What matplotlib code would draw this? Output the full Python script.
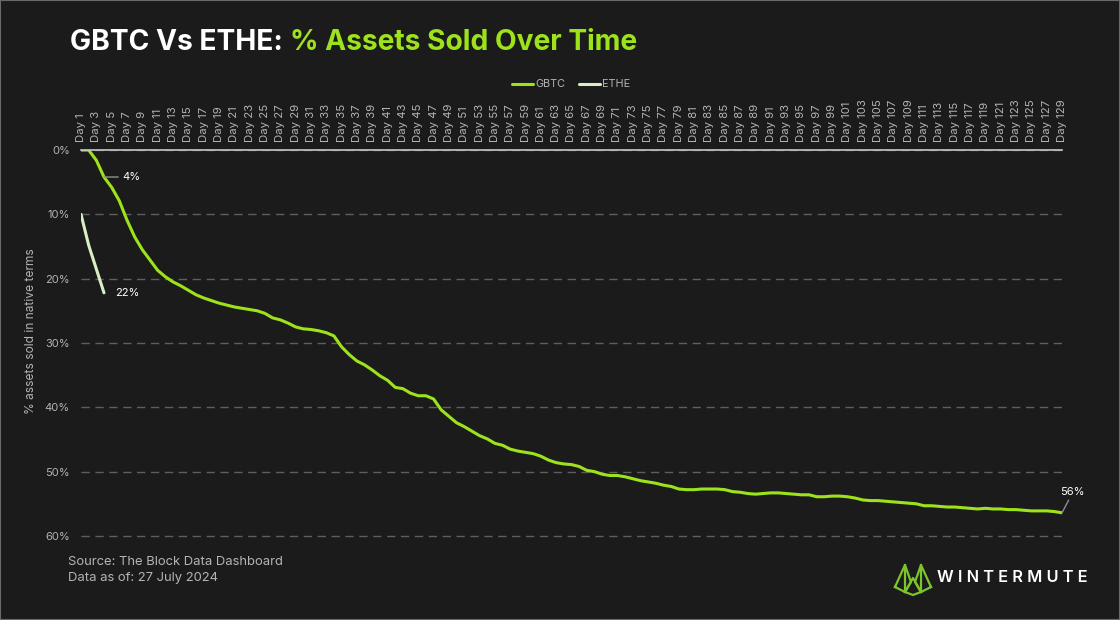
import matplotlib
matplotlib.use("Agg")
import matplotlib.pyplot as plt
from matplotlib.lines import Line2D
from matplotlib.patches import Rectangle

# % of assets sold (day 1 .. day 129)
gbtc = [0.0, 0.0, 1.6, 4.2, 5.8, 7.9, 10.9, 13.5, 15.5, 17.1,
        18.7, 19.7, 20.5, 21.1, 21.8, 22.5, 23.0, 23.4, 23.8, 24.1,
        24.4, 24.6, 24.8, 25.0, 25.4, 26.1, 26.4, 26.9, 27.5, 27.8,
        27.9, 28.1, 28.4, 28.9, 30.6, 31.8, 32.8, 33.4, 34.2, 35.1,
        35.8, 36.9, 37.1, 37.8, 38.2, 38.2, 38.7, 40.4, 41.4, 42.4,
        43.0, 43.7, 44.4, 44.9, 45.6, 45.9, 46.5, 46.8, 47.0, 47.2,
        47.6, 48.2, 48.6, 48.8, 48.9, 49.2, 49.8, 50.0, 50.4, 50.6,
        50.6, 50.8, 51.1, 51.4, 51.6, 51.8, 52.1, 52.3, 52.7, 52.8,
        52.8, 52.7, 52.7, 52.7, 52.8, 53.1, 53.2, 53.4, 53.5, 53.4,
        53.3, 53.3, 53.4, 53.5, 53.6, 53.6, 53.9, 53.9, 53.8, 53.8,
        53.9, 54.1, 54.4, 54.5, 54.5, 54.6, 54.7, 54.8, 54.9, 55.0,
        55.3, 55.3, 55.4, 55.5, 55.5, 55.6, 55.7, 55.8, 55.7, 55.8,
        55.8, 55.9, 55.9, 56.0, 56.1, 56.1, 56.1, 56.2, 56.4]
ethe = [10.0, 14.8, 18.5, 22.2]

days = list(range(1, len(gbtc) + 1))
day_labels = [f"Day {d}" for d in days]
y_ticks = [0, 10, 20, 30, 40, 50, 60]
y_labels = [f"{t}%" for t in y_ticks]

BG = "#1b1b1b"
GREEN = "#9de31c"
PALE = "#d8efc4"
GREY = "#b4b4b4"

plt.rcParams["font.family"] = ["Inter", "DejaVu Sans"]

fig = plt.figure(figsize=(11.2, 6.2), dpi=100, facecolor=BG)
ax = fig.add_axes([81 / 1120, 1 - 539.2 / 620, (1062 - 81) / 1120, (539.2 - 150) / 620])
ax.set_facecolor(BG)

ax.plot(days, gbtc, color=GREEN, lw=2.2, label="GBTC", solid_capstyle="round")
ax.plot(days[:len(ethe)], ethe, color=PALE, lw=2.2, label="ETHE", solid_capstyle="round")

ax.set_xlim(1, len(gbtc))
ax.set_ylim(60.5, 0)

ax.xaxis.tick_top()
ax.set_xticks(days[::2])
ax.set_xticklabels(day_labels[::2], rotation=90, fontsize=8.2, color=GREY)
ax.tick_params(axis="x", length=0, pad=6)
ax.set_yticks(y_ticks)
ax.set_yticklabels(y_labels, fontsize=8, color=GREY)
ax.tick_params(axis="y", length=0, pad=8)
ax.set_ylabel("% assets sold in native terms", color=GREY, fontsize=8.6)
ax.yaxis.set_label_coords(-0.045, 0.535)

for s in ["left", "right", "bottom"]:
    ax.spines[s].set_visible(False)
ax.spines["top"].set_color("#c8c8c8")
ax.spines["top"].set_linewidth(1.2)
ax.grid(axis="y", color="#5e5e5e", linestyle=(0, (6, 4)), linewidth=1)
ax.grid(axis="x", visible=False)

# annotations
ax.annotate("4%", xy=(days[3], gbtc[3]), xytext=(days[3] + 2.4, gbtc[3]),
            color="white", fontsize=8, va="center", ha="left",
            arrowprops=dict(arrowstyle="-", color="#909090", lw=1, shrinkA=1, shrinkB=0))
ax.text(days[3] + 1.4, ethe[-1], "22%", color="white", fontsize=8, va="center", ha="left")
ax.annotate("56%", xy=(days[-1], gbtc[-1]), xytext=(days[-1] + 1.4, gbtc[-1] - 2.4),
            color="white", fontsize=8, va="bottom", ha="center",
            arrowprops=dict(arrowstyle="-", color="#909090", lw=1, shrinkA=0, shrinkB=0),
            annotation_clip=False)

leg = ax.legend(loc="center", bbox_to_anchor=(0.51, 0.864), bbox_transform=fig.transFigure,
                ncol=2, frameon=False, fontsize=7.8, handlelength=2.0, handletextpad=0.2,
                columnspacing=1.2)
for t in leg.get_texts():
    t.set_color(GREY)

# title in two colours
t1 = fig.text(70 / 1120, 1 - 43 / 620, "GBTC Vs ETHE: ", color="white", fontsize=20.3,
              fontweight="bold", va="center", ha="left")
fig.canvas.draw()
bb = t1.get_window_extent()
fig.text(bb.x1 / 1120, 1 - 43 / 620, "% Assets Sold Over Time", color=GREEN, fontsize=20.3,
         fontweight="bold", va="center", ha="left")

fig.text(68 / 1120, 1 - 562 / 620, "Source: The Block Data Dashboard", color=GREY,
         fontsize=9.4, va="center")
fig.text(68 / 1120, 1 - 578 / 620, "Data as of: 27 July 2024", color=GREY,
         fontsize=9.4, va="center")

# logo
fig.text(937 / 1120, 1 - 578 / 620, "W I N T E R M U T E", color="white", fontsize=11.8,
         fontweight="semibold", va="center", ha="left")
logo = [[(895, 587), (905, 565), (911, 582), (905, 592), (895, 587)],
        [(905, 592), (913, 578), (921, 592)],
        [(931, 587), (921, 565), (915, 582), (921, 592), (931, 587)],
        [(905, 565), (905, 592)], [(921, 565), (921, 592)],
        [(905, 592), (913, 595), (921, 592)]]
for pts in logo:
    xs = [p[0] / 1120 for p in pts]
    ys = [1 - p[1] / 620 for p in pts]
    fig.add_artist(Line2D(xs, ys, color="#7cc42a", lw=1.6, transform=fig.transFigure))

fig.add_artist(Rectangle((0, 0), 1, 1, transform=fig.transFigure, fill=False,
                         edgecolor="#6a6a6a", lw=1.5))

fig.savefig("out.png", dpi=100, facecolor=BG)
